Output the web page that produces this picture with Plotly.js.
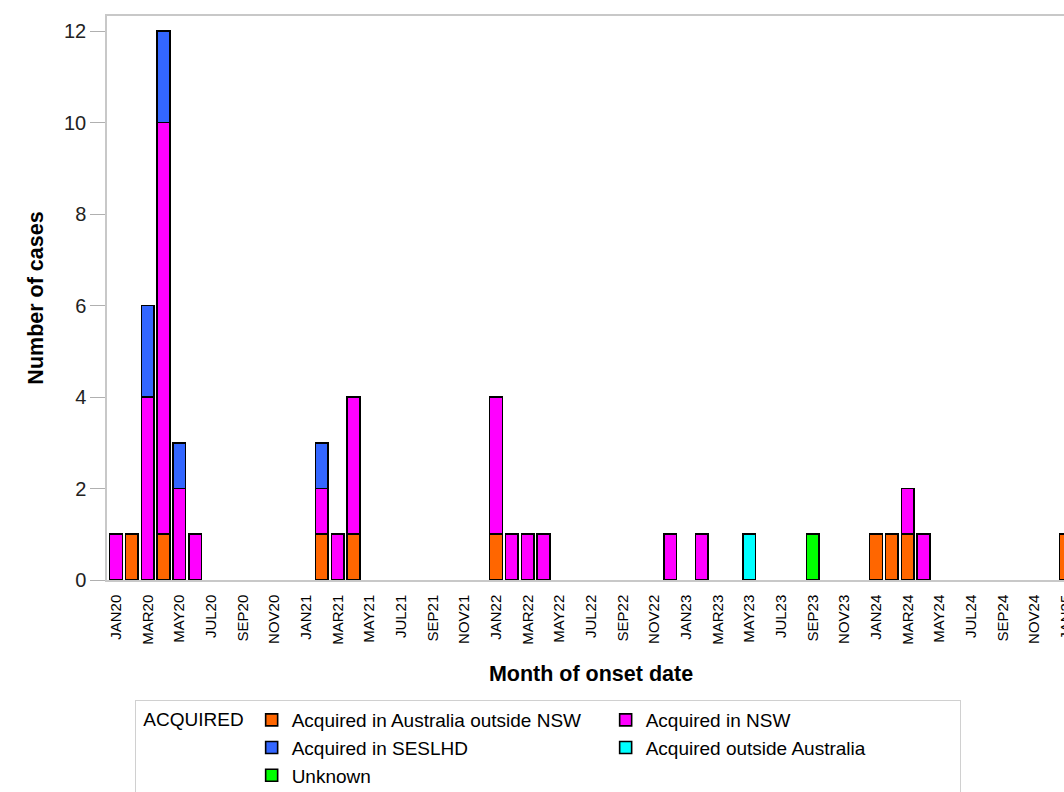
<!DOCTYPE html>
<html>
<head>
<meta charset="utf-8">
<script src="https://cdn.plot.ly/plotly-3.0.1.min.js"></script>
<style>
html,body{margin:0;padding:0;overflow:hidden;background:#fff;}
#chart{width:1085px;height:830px;}
</style>
</head>
<body>
<div id="chart"></div>
<script>
// All months on the category axis (JAN20 .. JAN25)
const months = [
 'JAN20','FEB20','MAR20','APR20','MAY20','JUN20','JUL20','AUG20','SEP20','OCT20','NOV20','DEC20',
 'JAN21','FEB21','MAR21','APR21','MAY21','JUN21','JUL21','AUG21','SEP21','OCT21','NOV21','DEC21',
 'JAN22','FEB22','MAR22','APR22','MAY22','JUN22','JUL22','AUG22','SEP22','OCT22','NOV22','DEC22',
 'JAN23','FEB23','MAR23','APR23','MAY23','JUN23','JUL23','AUG23','SEP23','OCT23','NOV23','DEC23',
 'JAN24','FEB24','MAR24','APR24','MAY24','JUN24','JUL24','AUG24','SEP24','OCT24','NOV24','DEC24',
 'JAN25'
];
// Tick labels shown (every second month)
const tickLabels = [
 'JAN20','MAR20','MAY20','JUL20','SEP20','NOV20',
 'JAN21','MAR21','MAY21','JUL21','SEP21','NOV21',
 'JAN22','MAR22','MAY22','JUL22','SEP22','NOV22',
 'JAN23','MAR23','MAY23','JUL23','SEP23','NOV23',
 'JAN24','MAR24','MAY24','JUL24','SEP24','NOV24',
 'JAN25'
];
const yTicks = [0,2,4,6,8,10,12];

// Series: Acquired in Australia outside NSW
const ausOutsideNswMonths = ['FEB20','APR20','FEB21','APR21','JAN22','JAN24','FEB24','MAR24','JAN25'];
const ausOutsideNswCounts = [1,1,1,1,1,1,1,1,1];
// Series: Acquired in NSW
const nswMonths = ['JAN20','MAR20','APR20','MAY20','JUN20','FEB21','MAR21','APR21','JAN22','FEB22','MAR22','APR22','DEC22','FEB23','MAR24','APR24'];
const nswCounts = [1,4,9,2,1,1,1,3,3,1,1,1,1,1,1,1];
// Series: Acquired in SESLHD
const seslhdMonths = ['MAR20','APR20','MAY20','FEB21'];
const seslhdCounts = [2,2,1,1];
// Series: Acquired outside Australia
const outsideAusMonths = ['MAY23'];
const outsideAusCounts = [1];
// Series: Unknown
const unknownMonths = ['SEP23'];
const unknownCounts = [1];

const seriesNames = ['Acquired in Australia outside NSW','Acquired in NSW','Acquired in SESLHD','Acquired outside Australia','Unknown'];
const seriesColors = ['#FF6600','#FF00FF','#3366FF','#00FFFF','#00FF00'];
const seriesX = [ausOutsideNswMonths, nswMonths, seslhdMonths, outsideAusMonths, unknownMonths];
const seriesY = [ausOutsideNswCounts, nswCounts, seslhdCounts, outsideAusCounts, unknownCounts];

const FONT = '"Liberation Sans", Arial, sans-serif';

const traces = seriesNames.map((name, i) => ({
  type: 'bar',
  name: name,
  x: seriesX[i],
  y: seriesY[i],
  marker: {color: seriesColors[i], line: {color: '#000000', width: 1.6}},
  hoverinfo: 'x+y+name'
}));

const layout = {
  width: 1085,
  height: 830,
  margin: {l: 107, r: 10, t: 16, b: 250},
  paper_bgcolor: '#ffffff',
  plot_bgcolor: '#ffffff',
  barmode: 'stack',
  bargap: 0.2,
  font: {family: FONT, color: '#000000'},
  showlegend: true,
  xaxis: {
    type: 'category',
    categoryorder: 'array',
    categoryarray: months,
    range: [-0.57, 60.57],
    tickmode: 'array',
    tickvals: tickLabels,
    ticktext: tickLabels,
    tickangle: -90,
    tickfont: {family: FONT, size: 15, color: '#000000'},
    ticklabelstandoff: 7,
    ticks: '',
    showgrid: false,
    zeroline: false,
    showline: true,
    linecolor: '#c8c8c8',
    linewidth: 1.5,
    mirror: true,
    automargin: false,
    title: {text: 'Month of onset date', font: {family: FONT, size: 21.5, color: '#000000', weight: 'bold'}, standoff: 22}
  },
  yaxis: {
    range: [0, 12.33],
    tickmode: 'array',
    tickvals: yTicks,
    ticks: 'outside',
    ticklen: 15,
    tickcolor: '#b0b0b0',
    tickwidth: 1,
    tickfont: {family: FONT, size: 20, color: '#222222'},
    showgrid: false,
    zeroline: false,
    showline: true,
    linecolor: '#c8c8c8',
    linewidth: 1.5,
    mirror: true,
    automargin: false,
    title: {text: 'Number of cases', font: {family: FONT, size: 21.5, color: '#000000', weight: 'bold'}, standoff: 14}
  },
  legend: {
    orientation: 'h',
    x: 0.029,
    xanchor: 'left',
    y: -0.2128,
    yanchor: 'top',
    bgcolor: '#ffffff',
    bordercolor: '#d0d0d0',
    borderwidth: 1,
    traceorder: 'normal',
    entrywidth: 309,
    font: {family: FONT, size: 19, color: '#000000'},
    title: {text: '\u00a0ACQUIRED', side: 'left', font: {family: FONT, size: 19, color: '#000000'}}
  }
};

Plotly.newPlot('chart', traces, layout, {displayModeBar: false, responsive: false});
</script>
</body>
</html>
